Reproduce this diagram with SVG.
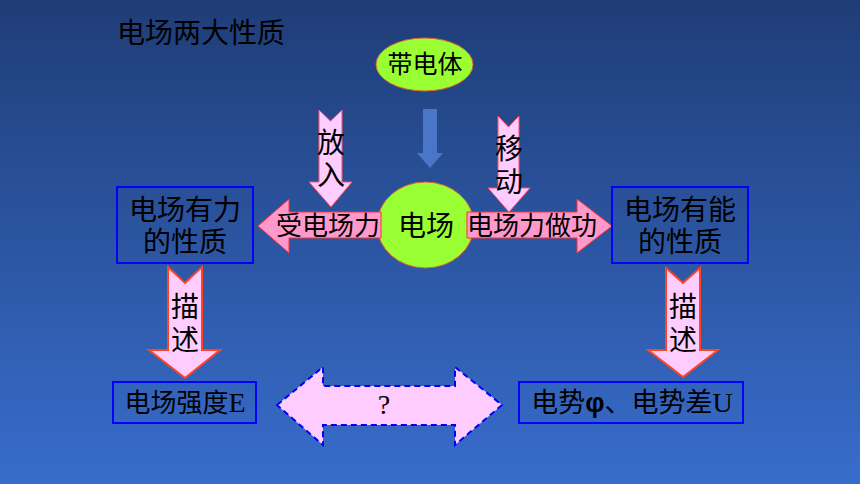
<svg xmlns="http://www.w3.org/2000/svg" width="860" height="484" viewBox="0 0 860 484">
<defs>
<linearGradient id="bg" x1="0" y1="0" x2="0" y2="1">
<stop offset="0" stop-color="#1f3d77"/>
<stop offset="1" stop-color="#386dcc"/>
</linearGradient>
<style>
text{font-family:"Liberation Sans","Noto Sans CJK SC",sans-serif;fill:#000;text-anchor:middle}
.box{fill:none;stroke:#0000ff;stroke-width:2}
.oval{fill:#99ff33;stroke:#e06030;stroke-width:1}
.down{fill:#ffccff;stroke:#ff4422;stroke-width:2}
.down1{fill:#ffccff;stroke:#ff5060;stroke-width:1}
.side{fill:#ff99cc;stroke:#ff3030;stroke-width:1}
.dbl{fill:#ffccff;stroke:#0000ff;stroke-width:2;stroke-dasharray:6 4}
.v{font-size:28px}
.h{font-size:26px}
.b{font-size:28px}
.ser{font-family:"Liberation Serif","Noto Sans CJK SC",serif}
</style>
</defs>
<rect width="860" height="484" fill="url(#bg)"/>
<text x="117" y="43" font-size="28" style="text-anchor:start">电场两大性质</text>

<g id="connectors">
<polygon points="423,109 437,109 437,153 443,153 430,168 417,153 423,153" fill="#4a76c8"/>
<polygon class="down1" points="319,110 330.5,121 342,110 342,182 352,182 331,207 309,182 319,182"/>
<polygon class="down1" points="498,116 508.5,127 519,116 519,188 530,188 509,212 488,188 498,188"/>
<polygon class="down" points="168,267 185,283 202,267 202,350 220,350 185,378 149,350 168,350"/>
<polygon class="down" points="666,268 683,283 700,268 700,350 718,350 683,377 648,350 666,350"/>
<polygon class="dbl" points="277,405 323,367 323,386 455,386 455,367 502,405 455,445 455,425 323,425 323,445"/>
<text class="ser" x="384" y="414" font-size="28">?</text>
<text class="v"><tspan x="331" y="153">放</tspan><tspan x="331" y="185">入</tspan></text>
<text class="v"><tspan x="509" y="159">移</tspan><tspan x="509" y="192">动</tspan></text>
<text class="v"><tspan x="185" y="317">描</tspan><tspan x="185" y="350">述</tspan></text>
<text class="v"><tspan x="683" y="317">描</tspan><tspan x="683" y="350">述</tspan></text>
</g>

<g id="charged-body">
<ellipse class="oval" cx="424.5" cy="64.5" rx="48.5" ry="26.5"/>
<text x="425" y="73" font-size="25">带电体</text>
</g>

<g id="field">
<ellipse class="oval" cx="425.5" cy="225" rx="48.5" ry="43"/>
<text x="426" y="236" font-size="28">电场</text>
</g>

<g id="force-arrow">
<polygon class="side" points="258,226 289,199 289,212 381,212 381,238 289,238 289,253"/>
<text class="h" x="328" y="235">受电场力</text>
</g>

<g id="work-arrow">
<polygon class="side" points="467,212 577,212 577,199 612,226 577,253 577,238 467,238"/>
<text class="h" x="532" y="235">电场力做功</text>
</g>

<g id="force-property">
<rect class="box" x="117" y="187" width="136" height="76"/>
<text class="b"><tspan x="185" y="220">电场有力</tspan><tspan x="185" y="252">的性质</tspan></text>
</g>

<g id="energy-property">
<rect class="box" x="612" y="187" width="136" height="76"/>
<text class="b"><tspan x="680" y="220">电场有能</tspan><tspan x="680" y="252">的性质</tspan></text>
</g>

<g id="field-strength">
<rect class="box" x="113" y="382" width="143" height="41"/>
<text x="185" y="412" font-size="26">电场强度<tspan class="ser" font-size="28">E</tspan></text>
</g>

<g id="potential">
<rect class="box" x="519" y="382" width="224" height="41"/>
<text x="632" y="412" font-size="27">电势<tspan font-weight="bold">φ</tspan>、电势差<tspan class="ser" font-size="28">U</tspan></text>
</g>
</svg>
